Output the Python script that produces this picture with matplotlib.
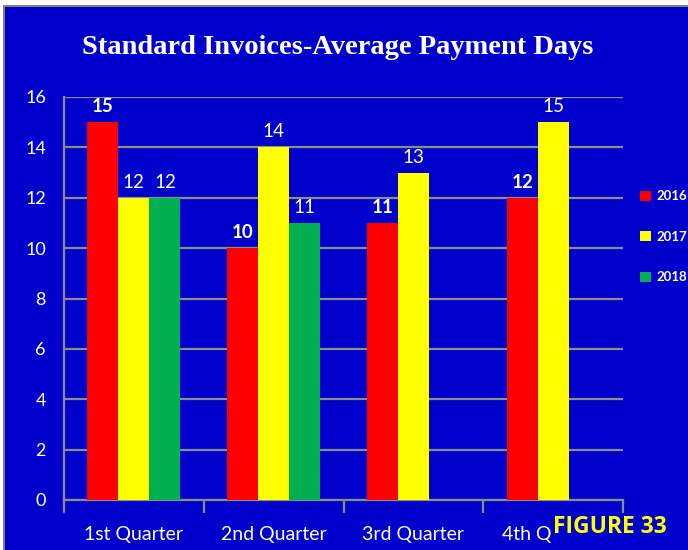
import numpy as np
import matplotlib
matplotlib.use("Agg")
import matplotlib.pyplot as plt
from matplotlib.patches import Rectangle

quarters = ["1st Quarter", "2nd Quarter", "3rd Quarter", "4th Quarter"]
years = ["2016", "2017", "2018"]
days_2016 = [15, 10, 11, 12]
days_2017 = [12, 14, 13, 15]
days_2018 = [12, 11, None, None]
series = [days_2016, days_2017, days_2018]
colors = ["#FF0000", "#FFFF00", "#00B050"]
yticks = [0, 2, 4, 6, 8, 10, 12, 14, 16]

BG = "#0000CC"
GRID = "#8C8C8C"
TXT = "#FFFFFF"
plt.rcParams["font.family"] = ["Lato", "DejaVu Sans"]

W, H = 688, 550
fig = plt.figure(figsize=(W / 100, H / 100), dpi=100, facecolor="white")

# panel background with thin grey frame on top/left
fig.patches.append(Rectangle((3 / W, 0), 1, 1 - 5 / H, transform=fig.transFigure,
                             facecolor="#808080", edgecolor="none", zorder=-20))
fig.patches.append(Rectangle((5 / W, 0), 1, 1 - 7 / H, transform=fig.transFigure,
                             facecolor=BG, edgecolor="none", zorder=-10))

ax = fig.add_axes([64 / W, 50 / H, (623 - 64) / W, (500 - 97) / H])
ax.set_facecolor(BG)
ax.patch.set_alpha(0)

x = np.arange(len(quarters))
width = 0.222
for i, (vals, col, yr) in enumerate(zip(series, colors, years)):
    xs = [xi + (i - 1) * width for xi, v in zip(x, vals) if v is not None]
    vs = [v for v in vals if v is not None]
    ax.bar(xs, vs, width=width, color=col, label=yr, zorder=3)
    for xi, v in zip(xs, vs):
        ax.annotate(str(v), (xi, v), xytext=(0, 5), textcoords="offset points",
                    ha="center", va="bottom", color=TXT, fontsize=13.5,
                    fontweight="bold" if i == 0 else "normal", zorder=4)

ax.set_xlim(-0.5, len(quarters) - 0.5)
ax.set_ylim(0, 16)
ax.set_yticks(yticks)
ax.set_yticklabels([str(t) for t in yticks], color=TXT, fontsize=13)
ax.yaxis.grid(True, color=GRID, linewidth=1.6, zorder=0)
ax.tick_params(axis="y", length=0, pad=13)

ax.set_xticks(x)
ax.set_xticklabels(quarters, color=TXT, fontsize=14)
ax.tick_params(axis="x", length=0, pad=19)
ax.set_xticks(np.arange(len(quarters) + 1) - 0.5, minor=True)
ax.tick_params(axis="x", which="minor", length=9, color=GRID, width=1.6)

for s in ["top", "right"]:
    ax.spines[s].set_visible(False)
for s in ["left", "bottom"]:
    ax.spines[s].set_color(GRID)
    ax.spines[s].set_linewidth(1.6)

fig.text(338 / W, 1 - 48 / H, "Standard Invoices-Average Payment Days",
         ha="center", va="center", color=TXT, fontsize=20.5, fontweight="bold",
         family=["Liberation Serif", "DejaVu Serif"])

leg = ax.legend(loc="center left", bbox_to_anchor=(1.01, 0.653), frameon=False,
                labelcolor=TXT, prop={"size": 9.5, "weight": "bold"},
                handlelength=0.8, handleheight=0.8, handletextpad=0.4,
                labelspacing=2.15)

fig.text(667 / W, 1 - 527 / H, "FIGURE 33", ha="right", va="center",
         color="#FFFF00", fontsize=16.5, fontweight="bold",
         family=["Open Sans", "DejaVu Sans"],
         bbox=dict(facecolor=BG, edgecolor="none", pad=1))

fig.savefig("out.png", dpi=100, facecolor=fig.get_facecolor())
